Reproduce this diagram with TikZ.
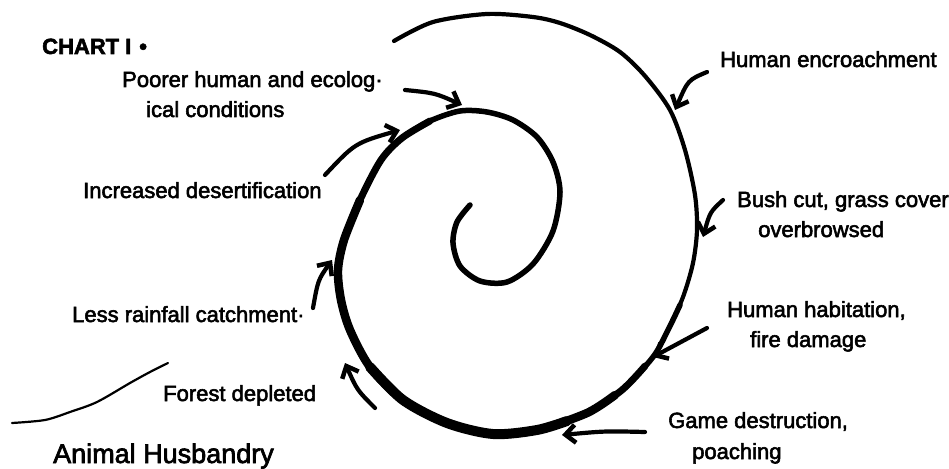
\documentclass[tikz,border=0pt]{standalone}
\usepackage{fontspec}
\setmainfont{Liberation Sans}
\newfontfamily\lblfont{Liberation Sans}[FakeBold=2.5]
\usetikzlibrary{arrows.meta}
\begin{document}
\begin{tikzpicture}[x=1pt,y=-1pt,
  lbl/.style={anchor=base west, inner sep=0pt, font=\lblfont\fontsize{22}{26}\selectfont},
  arr/.style={line width=4.2pt, line cap=round, -{Straight Barb[length=10pt,width=18pt,line width=4.5pt]}},
  spir/.style={line cap=round, line join=round}]
\useasboundingbox (0,0) rectangle (949,468);

% spiral: thin full path, then thicker overlays
\draw[spir, line width=4.2pt] plot[smooth] coordinates {
 (470,205) (457,222) (453,243) (460,266) (480,281) (507,282) (533,264) (553,231)
 (560,192) (553,162) (537,137) (513,120) (487,112) (460,111) (430,121) (402,138)
 (381,160) (360,200) (344,240) (338,270) (341,300) (350,330) (370,367) (403,400)
 (447,423) (493,434) (537,430) (587,413) (622,390) (653,357) (668,330) (683,297)
 (693,263) (697,230) (695,195) (685,150) (670,110) (645,76) (620,52) (590,35)
 (560,23) (533,17) (487,14) (433,22) (394,41)};
\draw[spir, line width=5.5pt] plot[smooth] coordinates {
 (470,205) (457,222) (453,243) (460,266) (480,281) (507,282) (533,264) (553,231)
 (560,192) (553,162) (537,137) (513,120) (487,112) (460,111) (430,121) (402,138)
 (381,160) (360,200) (344,240) (338,270) (341,300) (350,330) (370,367) (403,400)
 (447,423) (493,434) (537,430) (587,413) (622,390) (653,357) (668,330) (680,305)};
\draw[spir, line width=7pt] plot[smooth] coordinates {
 (430,121) (402,138) (381,160) (360,200) (344,240) (338,270) (341,300) (350,330) (370,367) (403,400)
 (447,423) (493,434) (537,430) (587,413) (622,390) (645,366)};
\draw[spir, line width=8.5pt] plot[smooth] coordinates {
 (360,200) (344,240) (338,270) (341,300) (350,330) (370,367) (403,400)
 (447,423) (493,434) (537,430) (587,413) (615,395)};
\draw[spir, line width=10pt] plot[smooth] coordinates {
 (370,367) (403,400) (447,423) (493,434) (537,430) (567,421)};

% hill line near "Forest depleted"
\draw[line width=2.2pt, line cap=round] plot[smooth] coordinates {
 (12,423) (45,420) (70,412) (97,402) (130,383) (150,372) (168,363)};

% labels
\node[lbl, font=\lblfont\fontsize{22}{25}\selectfont\bfseries] (chart) at (42,54) {CHART\hspace{6pt}I\hspace{8pt}•};
\node[lbl] (poor1) at (122,87) {Poorer human and ecolog·};
\node[lbl] (poor2) at (146,117) {ical conditions};
\node[lbl] (desert) at (83,198) {Increased desertification};
\node[lbl] (rain) at (72,322) {Less rainfall catchment·};
\node[lbl] (forest) at (163,401) {Forest depleted};
\node[lbl, font=\lblfont\fontsize{27}{30}\selectfont] (animal) at (53,463) {Animal Husbandry};
\node[lbl] (encr) at (720,67) {Human encroachment};
\node[lbl] (bush1) at (737,207) {Bush cut, grass cover};
\node[lbl] (bush2) at (758,237) {overbrowsed};
\node[lbl] (hab1) at (727,317) {Human habitation,};
\node[lbl] (hab2) at (750,347) {fire damage};
\node[lbl] (game1) at (668,428) {Game destruction,};
\node[lbl] (game2) at (692,459) {poaching};

% arrow ends
\coordinate (s1) at (707,72);  \coordinate (t1) at (675,110);
\coordinate (s2) at (723,200); \coordinate (t2) at (703,237);
\coordinate (s3) at (707,328); \coordinate (t3) at (653,357);
\coordinate (s4) at (645,432); \coordinate (t4) at (562,435);
\coordinate (s5) at (375,408); \coordinate (t5) at (345,363);
\coordinate (s6) at (313,308); \coordinate (t6) at (332,260);
\coordinate (s7) at (325,175); \coordinate (t7) at (400,130);
\coordinate (s8) at (405,90);  \coordinate (t8) at (462,105);

\draw[arr] (s1) .. controls (688,80) .. (t1);
\draw[arr] (s2) .. controls (710,212) .. (t2);
\draw[arr] (s3) -- (t3);
\draw[arr] (s4) .. controls (605,431) .. (t4);
\draw[arr] (s5) .. controls (357,390) .. (t5);
\draw[arr] (s6) .. controls (318,280) .. (t6);
\draw[arr] (s7) .. controls (355,143) .. (t7);
\draw[arr] (s8) .. controls (435,93) .. (t8);
\end{tikzpicture}
\end{document}
